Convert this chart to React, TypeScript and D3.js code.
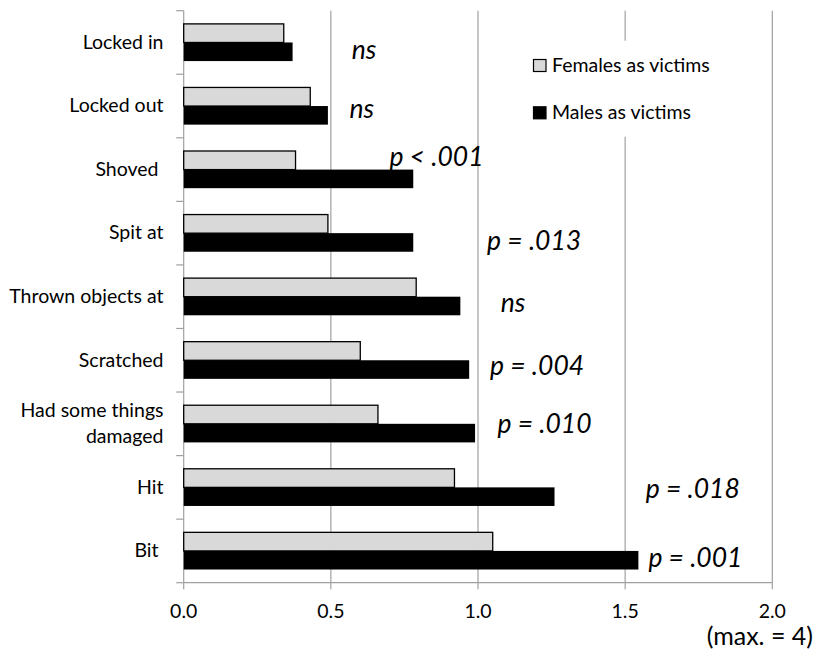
import React from "react";
import * as d3 from "d3";

const categories = [
  "Locked in",
  "Locked out",
  "Shoved ",
  "Spit at",
  "Thrown objects at",
  "Scratched",
  "Had some things\ndamaged",
  "Hit",
  "Bit ",
];
const females = [0.34, 0.43, 0.38, 0.49, 0.79, 0.6, 0.66, 0.92, 1.05];
const males = [0.37, 0.49, 0.78, 0.78, 0.94, 0.97, 0.99, 1.26, 1.545];
const pLabels = ["ns", "ns", "p < .001", "p = .013", "ns", "p = .004", "p = .010", "p = .018", "p = .001"];
// value-space x position where each p label starts
const pLabelX = [0.571, 0.563, 0.699, 1.031, 1.077, 1.041, 1.066, 1.57, 1.579];
// baseline offset (px) from the category centre
const pLabelDy = [16.8, 12.3, -3.9, 16.5, 15, 14.7, 9.5, 10.9, 15.7];
const xTicks = [0, 0.5, 1.0, 1.5, 2.0];
const seriesNames = ["Females as victims", "Males as victims"];

const W = 816;
const H = 659;
const FONT = "Lato, 'Open Sans', sans-serif";
const GRID = "#a0a0a0";

export default function App() {
  const x = d3.scaleLinear().domain([0, 2]).range([183.7, 772.3]);
  const y = d3
    .scaleBand<string>()
    .domain(categories)
    .range([10.7, 582.7])
    .paddingInner(0.415)
    .paddingOuter(0.2075);
  const sub = d3.scaleBand<string>().domain(["F", "M"]).range([0, y.bandwidth()]);
  const step = y.step();
  const y0 = 10.7;
  const bottom = 582.7;
  const centre = (c: string) => (y(c) as number) + y.bandwidth() / 2;

  return (
    <svg
      width={W}
      height={H}
      style={{ position: "absolute", left: 0, top: 0, background: "#fff" }}
      fontFamily={FONT}
    >
      {/* gridlines */}
      {xTicks.slice(1).map((t) => (
        <line key={t} x1={x(t)} x2={x(t)} y1={y0} y2={bottom} stroke={GRID} strokeWidth={1.2} />
      ))}
      {/* legend box (covers gridline) */}
      <rect x={522} y={40.7} width={200} height={96} fill="#fff" />
      {/* axes */}
      <line x1={x(0)} x2={x(0)} y1={y0} y2={bottom} stroke={GRID} strokeWidth={1.2} />
      <line x1={x(0)} x2={x(2)} y1={bottom} y2={bottom} stroke={GRID} strokeWidth={1.2} />
      {d3.range(categories.length + 1).map((i) => (
        <line key={i} x1={x(0) - 7.5} x2={x(0)} y1={y0 + i * step} y2={y0 + i * step} stroke={GRID} strokeWidth={1.2} />
      ))}
      {xTicks.map((t) => (
        <line key={t} x1={x(t)} x2={x(t)} y1={bottom} y2={bottom + 6.5} stroke={GRID} strokeWidth={1.2} />
      ))}
      {xTicks.map((t) => (
        <text key={t} x={x(t)} y={618} textAnchor="middle" fontSize={19.5} fill="#000">
          {d3.format(".1f")(t)}
        </text>
      ))}
      <text x={813} y={645} textAnchor="end" fontSize={25}>(max. = 4)</text>

      {/* bars */}
      {categories.map((c, i) => (
        <g key={c}>
          <rect
            x={x(0)}
            y={(y(c) as number) + (sub("F") as number)}
            width={x(females[i]) - x(0)}
            height={sub.bandwidth()}
            fill="#d9d9d9"
            stroke="#000"
            strokeWidth={1.3}
          />
          <rect
            x={x(0)}
            y={(y(c) as number) + (sub("M") as number)}
            width={x(males[i]) - x(0)}
            height={sub.bandwidth()}
            fill="#000"
          />
        </g>
      ))}

      {/* category labels */}
      {categories.map((c) => {
        const lines = c.split("\n");
        const cy = centre(c) + 6.3;
        const lh = 26;
        return (
          <text key={c} x={163.5} textAnchor="end" fontSize={19.5} style={{ whiteSpace: "pre" }}>
            {lines.map((l, k) => (
              <tspan key={k} x={163.5} y={cy - ((lines.length - 1) * lh) / 2 + k * lh}>
                {l}
              </tspan>
            ))}
          </text>
        );
      })}

      {/* p labels */}
      {categories.map((c, i) => (
        <text
          key={c}
          x={x(pLabelX[i])}
          y={centre(c) + pLabelDy[i]}
          fontSize={26.5}
          fontStyle="italic"
          style={{ whiteSpace: "pre" }}
        >
          {pLabels[i]}
        </text>
      ))}

      {/* legend */}
      {seriesNames.map((s, i) => (
        <g key={s} transform={`translate(533.5, ${59.5 + i * 47.3})`}>
          <rect x={0} y={0} width={12.5} height={12} fill={i === 0 ? "#d9d9d9" : "#000"} stroke="#000" strokeWidth={1.2} />
          <text x={18.5} y={12.5} fontSize={19.5}>
            {s}
          </text>
        </g>
      ))}
    </svg>
  );
}
